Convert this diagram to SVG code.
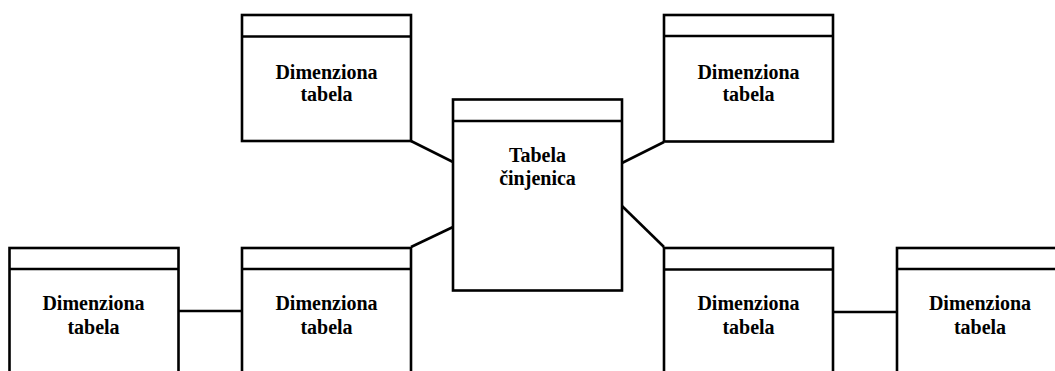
<svg xmlns="http://www.w3.org/2000/svg" width="1055" height="371" viewBox="0 0 1055 371">
  <style>
    .box { fill: #ffffff; stroke: #000000; stroke-width: 2.6; }
    .sep { stroke: #000000; stroke-width: 2.6; }
    .link { fill: none; stroke: #000000; stroke-width: 2.6; }
    .label { font-family: "Liberation Serif", "Times New Roman", serif; font-weight: bold; font-size: 20px; text-anchor: middle; fill: #000000; }
  </style>
  <rect width="1055" height="371" fill="#ffffff"/>

  <!-- connectors -->
  <g id="connectors">
    <polyline class="link" points="411,141 453,162"/>
    <polyline class="link" points="453,227 411,247"/>
    <polyline class="link" points="622,163 664,142"/>
    <polyline class="link" points="622,206 664,247"/>
    <line class="link" x1="178" y1="311" x2="242" y2="311"/>
    <line class="link" x1="833" y1="312" x2="897" y2="312"/>
  </g>

  <!-- fact table -->
  <g id="fact">
    <rect class="box" x="453" y="99.5" width="169" height="191"/>
    <line class="sep" x1="453" y1="121" x2="622" y2="121"/>
    <text class="label" x="537.5" y="161.5">Tabela</text>
    <text class="label" x="537.5" y="185">činjenica</text>
  </g>

  <!-- dimension tables -->
  <g id="dim-top-left">
    <rect class="box" x="242" y="15" width="169" height="126"/>
    <line class="sep" x1="242" y1="36.5" x2="411" y2="36.5"/>
    <text class="label" x="326.5" y="79">Dimenziona</text>
    <text class="label" x="326.5" y="101">tabela</text>
  </g>

  <g id="dim-top-right">
    <rect class="box" x="664" y="15" width="169" height="126.5"/>
    <line class="sep" x1="664" y1="36" x2="833" y2="36"/>
    <text class="label" x="748.5" y="79">Dimenziona</text>
    <text class="label" x="748.5" y="101">tabela</text>
  </g>

  <g id="dim-bottom-far-left">
    <rect class="box" x="9.5" y="248" width="169" height="140"/>
    <line class="sep" x1="9.5" y1="269" x2="178.5" y2="269"/>
    <text class="label" x="93.5" y="310">Dimenziona</text>
    <text class="label" x="93.5" y="334">tabela</text>
  </g>

  <g id="dim-bottom-left">
    <rect class="box" x="242" y="248" width="169" height="140"/>
    <line class="sep" x1="242" y1="269" x2="411" y2="269"/>
    <text class="label" x="326.5" y="310">Dimenziona</text>
    <text class="label" x="326.5" y="334">tabela</text>
  </g>

  <g id="dim-bottom-right">
    <rect class="box" x="664" y="248" width="169" height="140"/>
    <line class="sep" x1="664" y1="269.5" x2="833" y2="269.5"/>
    <text class="label" x="748.5" y="310">Dimenziona</text>
    <text class="label" x="748.5" y="334">tabela</text>
  </g>

  <g id="dim-bottom-far-right">
    <rect class="box" x="897" y="248" width="169" height="140"/>
    <line class="sep" x1="897" y1="269" x2="1066" y2="269"/>
    <text class="label" x="980" y="310">Dimenziona</text>
    <text class="label" x="980" y="334">tabela</text>
  </g>
</svg>
